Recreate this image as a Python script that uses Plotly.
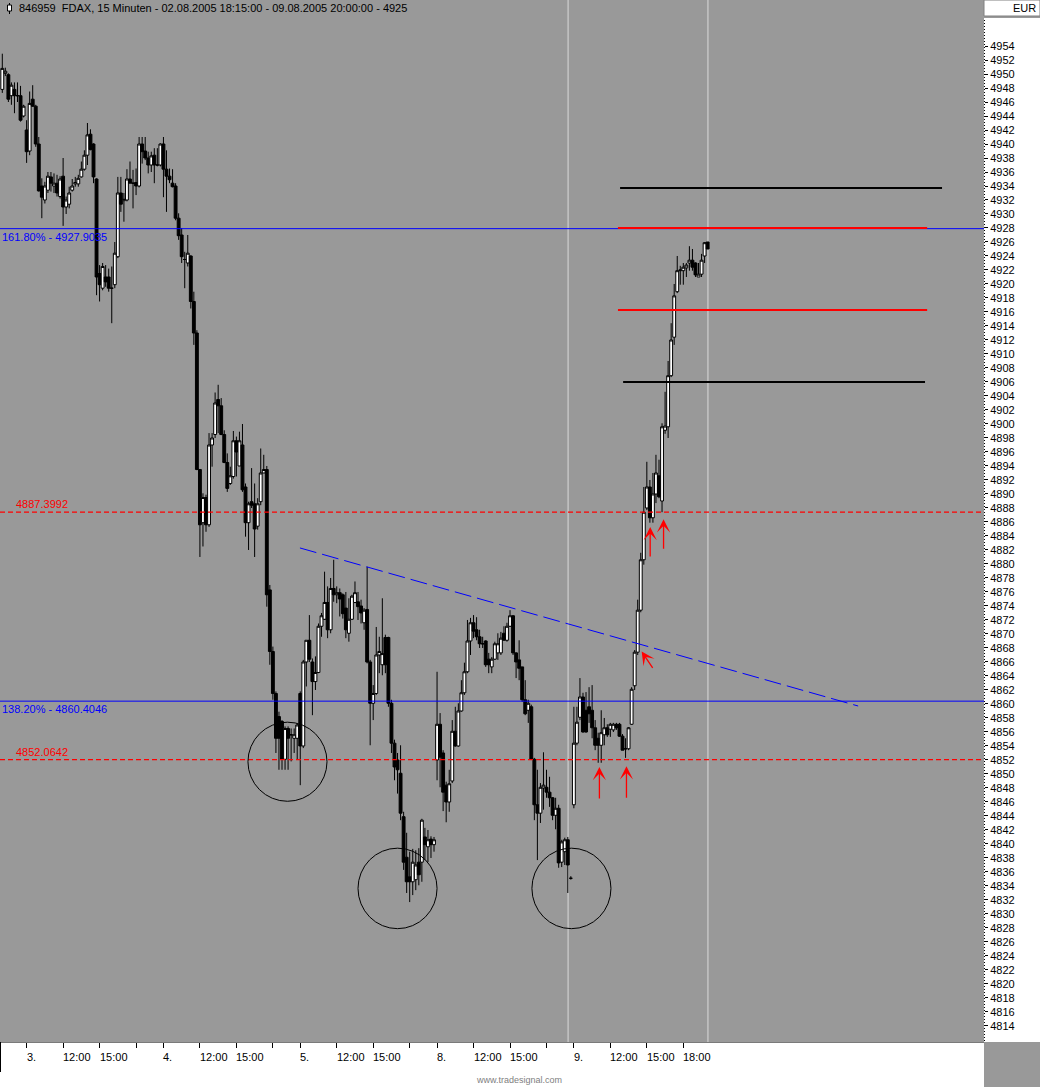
import plotly.graph_objects as go

# ---------------- data (15-minute FDAX bars, 02.08.2005 18:15 - 09.08.2005 20:00) ----------------
title_text = "846959  FDAX, 15 Minuten - 02.08.2005 18:15:00 - 09.08.2005 20:00:00 - 4925"
currency = "EUR"

opens = [
    4947.8, 4950.1, 4949.9, 4946.9, 4947.8, 4946.9, 4946.9, 4944.0, 4942.0, 4939.0,
    4946.4, 4945.4, 4940.0, 4934.0, 4932.0, 4933.4, 4935.3, 4934.0, 4934.4, 4932.5,
    4935.4, 4931.0, 4931.4, 4933.4, 4934.3, 4934.3, 4935.3, 4936.4, 4938.4, 4941.4,
    4940.0, 4935.0, 4921.5, 4919.4, 4921.0, 4921.0, 4919.4, 4919.9, 4923.9, 4933.0,
    4931.9, 4932.0, 4935.0, 4934.4, 4934.5, 4934.0, 4940.0, 4939.0, 4938.0, 4937.0,
    4938.4, 4937.0, 4937.0, 4940.0, 4936.4, 4935.4, 4934.4, 4934.0, 4929.4, 4927.0,
    4923.5, 4923.0, 4924.0, 4917.5, 4913.0, 4893.5, 4885.9, 4889.5, 4885.6, 4897.0,
    4898.5, 4903.5, 4902.6, 4898.5, 4894.5, 4891.5, 4892.5, 4897.6, 4894.0, 4897.0,
    4891.0, 4885.9, 4888.9, 4888.6, 4885.4, 4888.9, 4893.0, 4893.5, 4876.3, 4867.5,
    4861.5, 4858.2, 4857.5, 4852.1, 4856.5, 4855.6, 4855.1, 4855.1, 4861.5, 4854.0,
    4866.0, 4869.1, 4866.0, 4863.2, 4864.5, 4871.1, 4872.1, 4874.5, 4870.6, 4876.5,
    4875.6, 4875.9, 4875.6, 4873.7, 4870.1, 4872.1, 4874.5, 4874.6, 4874.0, 4871.6,
    4873.5, 4866.0, 4860.1, 4861.5, 4867.0, 4865.6, 4869.5, 4869.5, 4860.1, 4854.4,
    4852.0, 4850.1, 4843.9, 4838.1, 4835.3, 4834.6, 4834.9, 4837.4, 4837.4, 4841.0,
    4839.6, 4840.7, 4839.9, 4852.0, 4857.1, 4853.0, 4848.4, 4846.0, 4849.0, 4856.1,
    4854.0, 4859.0, 4861.6, 4864.6, 4869.0, 4871.6, 4870.6, 4869.6, 4868.6, 4869.0,
    4866.4, 4865.3, 4866.4, 4867.3, 4867.3, 4870.1, 4869.1, 4871.1, 4872.6, 4867.3,
    4866.3, 4865.3, 4860.6, 4859.1, 4859.6, 4852.1, 4845.6, 4844.4, 4848.0, 4848.1,
    4847.4, 4846.6, 4844.1, 4845.1, 4837.4, 4838.9, 4840.6, 4835.1, 4845.6, 4854.4,
    4858.1, 4861.0, 4859.1, 4859.6, 4859.1, 4856.6, 4855.1, 4854.1, 4855.6, 4856.6,
    4856.4, 4856.3, 4857.1, 4857.1, 4855.4, 4853.6, 4853.6, 4857.1, 4862.6, 4867.4,
    4873.4, 4880.6, 4888.0, 4891.0, 4886.6, 4890.0, 4892.6, 4889.0, 4899.1, 4899.6,
    4906.9, 4912.4, 4918.9, 4921.9, 4921.9, 4922.3, 4923.0, 4923.4, 4923.0, 4921.0,
    4921.4, 4924.0, 4926.0,
]
highs = [
    4952.9, 4950.9, 4950.1, 4948.8, 4948.8, 4948.8, 4948.3, 4945.6, 4943.4, 4947.5,
    4948.4, 4945.6, 4941.0, 4935.1, 4934.6, 4936.0, 4936.0, 4935.8, 4935.6, 4935.4,
    4938.0, 4932.5, 4933.9, 4935.0, 4935.3, 4935.6, 4937.5, 4939.1, 4943.0, 4942.1,
    4940.1, 4935.1, 4922.7, 4923.0, 4922.7, 4922.2, 4922.5, 4926.0, 4935.3, 4935.3,
    4933.0, 4936.4, 4937.5, 4936.3, 4936.5, 4941.0, 4941.0, 4941.0, 4938.9, 4938.9,
    4939.4, 4939.4, 4940.1, 4941.0, 4939.1, 4936.5, 4936.4, 4934.4, 4930.1, 4928.0,
    4924.6, 4927.0, 4924.1, 4918.9, 4913.4, 4893.5, 4890.1, 4889.9, 4898.7, 4898.7,
    4904.5, 4905.6, 4903.7, 4899.1, 4895.8, 4893.9, 4899.0, 4898.2, 4898.9, 4900.0,
    4891.5, 4888.9, 4893.7, 4891.5, 4889.4, 4896.5, 4895.6, 4894.0, 4877.0, 4868.2,
    4861.8, 4858.9, 4857.7, 4856.8, 4856.8, 4856.5, 4856.5, 4857.2, 4861.8, 4866.3,
    4869.1, 4872.7, 4866.5, 4866.8, 4871.5, 4873.0, 4878.9, 4876.8, 4878.0, 4880.6,
    4876.8, 4876.5, 4875.8, 4876.0, 4875.1, 4875.6, 4877.5, 4876.0, 4874.9, 4873.7,
    4879.6, 4866.3, 4862.7, 4871.0, 4869.6, 4875.1, 4869.9, 4869.6, 4860.6, 4854.9,
    4853.0, 4854.1, 4844.6, 4841.6, 4838.9, 4839.3, 4839.1, 4839.4, 4843.6, 4842.3,
    4842.0, 4841.1, 4841.0, 4864.6, 4858.7, 4853.4, 4848.9, 4850.6, 4857.7, 4859.6,
    4860.1, 4863.4, 4865.9, 4872.0, 4872.3, 4872.7, 4872.4, 4870.6, 4869.6, 4869.1,
    4867.3, 4866.7, 4868.9, 4870.1, 4870.3, 4871.1, 4871.6, 4873.4, 4872.7, 4867.4,
    4869.1, 4865.3, 4863.4, 4860.6, 4859.9, 4852.3, 4850.6, 4848.7, 4853.1, 4850.6,
    4849.6, 4846.7, 4846.6, 4845.6, 4840.6, 4840.9, 4841.0, 4835.4, 4859.6, 4859.6,
    4863.7, 4861.6, 4861.7, 4862.4, 4862.7, 4857.7, 4855.9, 4859.1, 4858.0, 4857.1,
    4857.3, 4857.3, 4857.3, 4857.3, 4855.7, 4855.1, 4856.7, 4862.4, 4867.7, 4874.9,
    4881.6, 4891.0, 4894.6, 4892.0, 4893.0, 4895.6, 4894.9, 4900.1, 4904.6, 4909.0,
    4914.4, 4920.0, 4924.0, 4922.6, 4923.0, 4923.0, 4925.4, 4925.0, 4923.1, 4923.0,
    4924.3, 4926.0, 4926.0,
]
lows = [
    4947.3, 4949.7, 4946.0, 4945.6, 4944.4, 4946.0, 4943.2, 4943.8, 4937.3, 4938.4,
    4945.3, 4939.6, 4933.2, 4929.4, 4931.5, 4933.0, 4933.2, 4933.0, 4932.5, 4932.2,
    4928.3, 4930.0, 4930.8, 4933.2, 4933.9, 4933.9, 4935.2, 4936.2, 4937.0, 4939.1,
    4934.4, 4918.4, 4917.5, 4919.1, 4919.6, 4918.9, 4914.4, 4919.4, 4923.7, 4930.3,
    4928.9, 4931.8, 4934.4, 4930.8, 4932.7, 4933.8, 4937.2, 4937.7, 4935.8, 4936.0,
    4934.4, 4936.8, 4936.8, 4932.4, 4930.3, 4934.4, 4933.8, 4929.1, 4926.3, 4923.0,
    4919.4, 4922.5, 4916.5, 4911.3, 4893.4, 4881.0, 4882.5, 4884.6, 4885.3, 4893.9,
    4898.0, 4898.7, 4898.4, 4894.4, 4890.3, 4891.3, 4892.2, 4892.5, 4894.0, 4890.3,
    4883.9, 4882.0, 4888.0, 4881.0, 4884.9, 4888.4, 4893.0, 4873.9, 4865.6, 4860.6,
    4853.0, 4850.6, 4850.6, 4850.6, 4850.6, 4851.8, 4853.0, 4852.0, 4848.4, 4853.7,
    4862.5, 4866.0, 4858.4, 4862.0, 4864.4, 4869.6, 4872.0, 4869.4, 4870.1, 4874.6,
    4874.4, 4872.5, 4872.2, 4869.4, 4868.9, 4872.0, 4874.4, 4872.0, 4871.5, 4870.6,
    4865.8, 4854.1, 4857.7, 4861.3, 4864.4, 4864.1, 4864.4, 4859.6, 4853.0, 4849.1,
    4847.2, 4843.4, 4836.3, 4833.0, 4831.7, 4832.7, 4833.4, 4834.1, 4834.6, 4837.7,
    4837.4, 4838.0, 4838.9, 4849.1, 4848.1, 4844.7, 4843.1, 4844.6, 4848.7, 4853.9,
    4853.9, 4858.9, 4861.3, 4864.4, 4867.0, 4869.4, 4869.1, 4868.0, 4868.0, 4865.3,
    4864.4, 4864.4, 4866.3, 4866.3, 4867.0, 4869.1, 4868.9, 4871.0, 4867.0, 4863.7,
    4863.4, 4860.3, 4858.4, 4857.3, 4852.0, 4843.4, 4837.7, 4843.0, 4844.9, 4846.6,
    4845.3, 4843.4, 4842.1, 4836.6, 4836.7, 4837.0, 4833.0, 4834.9, 4845.1, 4854.1,
    4857.7, 4855.9, 4855.9, 4857.3, 4855.1, 4853.4, 4851.6, 4851.6, 4854.1, 4855.3,
    4855.3, 4856.0, 4856.3, 4855.3, 4853.4, 4852.3, 4853.4, 4857.0, 4862.0, 4867.0,
    4873.1, 4879.9, 4887.7, 4885.9, 4885.9, 4888.7, 4889.4, 4887.4, 4898.6, 4898.0,
    4906.7, 4911.3, 4918.7, 4919.9, 4919.9, 4921.0, 4921.9, 4921.9, 4921.0, 4921.0,
    4921.0, 4923.0, 4925.0,
]
closes = [
    4950.8, 4950.4, 4946.4, 4948.4, 4946.9, 4946.9, 4943.4, 4945.4, 4938.9, 4945.8,
    4945.4, 4940.0, 4933.3, 4932.4, 4934.0, 4935.4, 4934.4, 4934.4, 4933.0, 4935.0,
    4931.0, 4932.0, 4933.0, 4934.0, 4934.5, 4935.1, 4936.4, 4938.4, 4941.3, 4939.2,
    4935.3, 4921.0, 4919.9, 4922.5, 4920.3, 4919.4, 4919.4, 4924.4, 4933.0, 4931.4,
    4932.1, 4935.0, 4934.4, 4934.4, 4934.0, 4940.0, 4938.9, 4938.0, 4937.0, 4938.3,
    4937.0, 4937.0, 4940.0, 4936.4, 4935.4, 4934.9, 4933.9, 4929.4, 4926.9, 4923.9,
    4923.5, 4924.4, 4917.5, 4913.0, 4893.5, 4885.6, 4889.5, 4885.6, 4897.0, 4898.0,
    4903.0, 4902.6, 4898.5, 4894.5, 4890.8, 4892.6, 4897.6, 4896.0, 4897.6, 4890.6,
    4885.9, 4888.6, 4888.4, 4885.0, 4888.6, 4893.0, 4893.5, 4875.6, 4867.5, 4861.5,
    4855.1, 4855.1, 4852.1, 4856.5, 4855.1, 4855.6, 4855.6, 4857.0, 4854.0, 4866.0,
    4869.1, 4866.4, 4863.2, 4864.5, 4871.1, 4872.6, 4874.5, 4870.6, 4876.5, 4875.6,
    4875.9, 4875.0, 4872.9, 4870.6, 4872.1, 4875.4, 4875.9, 4873.9, 4873.0, 4873.4,
    4866.0, 4860.1, 4861.5, 4867.0, 4867.5, 4867.2, 4865.6, 4860.1, 4854.4, 4851.0,
    4850.6, 4844.4, 4837.4, 4834.6, 4834.6, 4837.4, 4837.0, 4835.6, 4843.4, 4839.9,
    4840.6, 4839.9, 4840.6, 4857.1, 4852.4, 4847.4, 4846.0, 4848.6, 4856.1, 4854.0,
    4859.0, 4861.6, 4864.6, 4869.0, 4871.6, 4870.4, 4869.6, 4868.6, 4868.6, 4865.6,
    4865.6, 4866.4, 4868.6, 4868.6, 4869.4, 4869.1, 4871.1, 4872.6, 4867.3, 4866.0,
    4865.1, 4860.6, 4858.6, 4860.1, 4852.1, 4845.6, 4844.4, 4848.1, 4848.4, 4847.4,
    4846.6, 4844.1, 4845.1, 4837.3, 4840.3, 4840.6, 4837.0, 4835.1, 4854.4, 4857.4,
    4861.0, 4856.0, 4856.0, 4858.6, 4856.6, 4854.1, 4854.1, 4855.9, 4856.6, 4855.6,
    4857.1, 4857.1, 4856.6, 4855.4, 4853.4, 4853.6, 4856.6, 4862.1, 4867.4, 4873.4,
    4880.6, 4887.4, 4891.0, 4886.6, 4890.0, 4893.0, 4889.6, 4899.6, 4899.7, 4906.9,
    4912.0, 4918.3, 4921.9, 4922.0, 4922.4, 4922.7, 4923.4, 4922.4, 4921.3, 4921.4,
    4923.4, 4925.9, 4925.0,
]

# x-axis ticks (bar index of tick) and labels
tick_pos = [8, 20, 32, 44, 53, 65, 77, 89, 98, 110, 122, 134, 143, 155, 167, 179, 188, 200, 212, 224]
tick_text = ["3.", "12:00", "15:00", "", "4.", "12:00", "15:00", "", "5.", "12:00", "15:00", "",
             "8.", "12:00", "15:00", "", "9.", "12:00", "15:00", "18:00"]
price_ticks = list(range(4814, 4956, 2))

# Fibonacci extension levels (blue) and support levels (red dashed)
fib_levels = [4927.9035, 4860.4046]
fib_labels = ["161.80% - 4927.9035", "138.20% - 4860.4046"]
red_levels = [4887.3992, 4852.0642]
red_labels = ["4887.3992", "4852.0642"]

# drawing tools (bar index / price)
trend_x = [97.9, 281.5]
trend_y = [4882.29, 4859.71]
target_black = [(203.2, 309.1, 4933.7), (204.2, 303.5, 4906.0)]
target_red = [(202.5, 304.2, 4928.0), (202.5, 304.2, 4916.3)]
circles = [(80.8, 106.8, 4846.1, 4857.4), (117.0, 143.0, 4827.9, 4839.4), (174.2, 200.2, 4827.9, 4839.4)]
vlines = [186.1, 232.1]
arrows = [(196.4, 4851.0, 0, 33), (205.3, 4851.1, 0, 33), (213.1, 4885.3, 0, 31),
          (217.5, 4886.4, 0, 31), (210.3, 4867.5, 12, 18)]

# ---------------- layout geometry ----------------
W, H = 1040, 1087
ML, MR, MT, MB = 0, 56, 18, 45
PW, PH = W - ML - MR, H - MT - MB
BG = "#999999"
FONT = "Liberation Sans"


def pxx(xp):
    return (xp - ML) / PW


def pxy(yp):
    return (H - MB - yp) / PH


n = len(opens)
bar_index = list(range(n))

fig = go.Figure()
fig.add_trace(go.Candlestick(
    x=bar_index, open=opens, high=highs, low=lows, close=closes,
    increasing=dict(fillcolor="white", line=dict(color="black", width=1)),
    decreasing=dict(fillcolor="black", line=dict(color="black", width=1)),
    whiskerwidth=0, hoverinfo="skip", showlegend=False,
))

shapes = []
# white panels (right axis, bottom axis) and EUR box
shapes.append(dict(type="rect", xref="paper", yref="paper", x0=pxx(984), x1=pxx(1040), y0=pxy(1042), y1=pxy(18),
                   fillcolor="white", line=dict(width=0), layer="below"))
shapes.append(dict(type="rect", xref="paper", yref="paper", x0=pxx(0), x1=pxx(984), y0=pxy(1087), y1=pxy(1042),
                   fillcolor="white", line=dict(width=0), layer="below"))
shapes.append(dict(type="rect", xref="paper", yref="paper", x0=pxx(984), x1=pxx(1040), y0=pxy(16), y1=pxy(0),
                   fillcolor="white", line=dict(color="#808080", width=1), layer="below"))
# dotted axis line
shapes.append(dict(type="line", xref="paper", yref="paper", x0=pxx(984.5), x1=pxx(984.5), y0=pxy(1041), y1=pxy(18),
                   line=dict(color="black", width=1, dash="1px,2px")))
# bottom left short line
shapes.append(dict(type="line", xref="paper", yref="paper", x0=pxx(0.5), x1=pxx(0.5), y0=pxy(1072), y1=pxy(1042),
                   line=dict(color="black", width=1)))
# title icon
shapes.append(dict(type="line", xref="paper", yref="paper", x0=pxx(9.5), x1=pxx(9.5), y0=pxy(14), y1=pxy(3),
                   line=dict(color="black", width=1)))
shapes.append(dict(type="rect", xref="paper", yref="paper", x0=pxx(7.5), x1=pxx(11.5), y0=pxy(11), y1=pxy(5),
                   fillcolor="white", line=dict(color="black", width=1)))

# vertical markers
for xv in vlines:
    shapes.append(dict(type="line", xref="x", yref="paper", x0=xv, x1=xv, y0=0, y1=pxy(0),
                       line=dict(color="#dadada", width=1), layer="below"))
# fib lines
for lv in fib_levels:
    shapes.append(dict(type="line", xref="paper", yref="y", x0=0, x1=1, y0=lv, y1=lv,
                       line=dict(color="#0000ff", width=1)))
for lv in red_levels:
    shapes.append(dict(type="line", xref="paper", yref="y", x0=0, x1=1, y0=lv, y1=lv,
                       line=dict(color="#ff0000", width=1.2, dash="5px,3px")))
# trend line
shapes.append(dict(type="line", xref="x", yref="y", x0=trend_x[0], x1=trend_x[1], y0=trend_y[0], y1=trend_y[1],
                   line=dict(color="#0000ff", width=1, dash="17px,6px")))
for x0, x1, lv in target_black:
    shapes.append(dict(type="line", xref="x", yref="y", x0=x0, x1=x1, y0=lv, y1=lv,
                       line=dict(color="black", width=2)))
for x0, x1, lv in target_red:
    shapes.append(dict(type="line", xref="x", yref="y", x0=x0, x1=x1, y0=lv, y1=lv,
                       line=dict(color="#ff0000", width=2)))
for x0, x1, y0, y1 in circles:
    shapes.append(dict(type="circle", xref="x", yref="y", x0=x0, x1=x1, y0=y0, y1=y1,
                       line=dict(color="black", width=1)))

annotations = []
annotations.append(dict(text=title_text, xref="paper", yref="paper", x=pxx(17), y=pxy(8), xanchor="left",
                        yanchor="middle", showarrow=False, font=dict(family=FONT, size=11, color="black")))
annotations.append(dict(text=currency, xref="paper", yref="paper", x=pxx(1038), y=pxy(8), xanchor="right",
                        yanchor="middle", showarrow=False, font=dict(family=FONT, size=11, color="black")))
annotations.append(dict(text="www.tradesignal.com", xref="paper", yref="paper", x=pxx(519), y=pxy(1080),
                        xanchor="center", yanchor="middle", showarrow=False,
                        font=dict(family=FONT, size=9, color="#808080")))
for tp, tt in zip(tick_pos, tick_text):
    if tt:
        annotations.append(dict(text=tt, xref="x", yref="paper", x=tp, y=pxy(1057), xanchor="left",
                                yanchor="middle", xshift=-2, showarrow=False,
                                font=dict(family=FONT, size=11, color="black")))
for lv, lb in zip(fib_levels, fib_labels):
    annotations.append(dict(text=lb, xref="paper", yref="y", x=pxx(0), y=lv, xanchor="left", yanchor="top",
                            showarrow=False, font=dict(family=FONT, size=11, color="#0000ff")))
for lv, lb in zip(red_levels, red_labels):
    annotations.append(dict(text=lb, xref="paper", yref="y", x=pxx(14), y=lv, xanchor="left", yanchor="bottom",
                            showarrow=False, font=dict(family=FONT, size=11, color="#ff0000")))
for xa, ya, dx, dy in arrows:
    annotations.append(dict(text="", x=xa, y=ya, xref="x", yref="y", ax=dx, ay=dy, showarrow=True,
                            arrowhead=3, arrowsize=1.7, arrowwidth=1.3, arrowcolor="#ff0000", standoff=0))

fig.update_layout(
    width=W, height=H, autosize=False,
    margin=dict(l=ML, r=MR, t=MT, b=MB, pad=0),
    paper_bgcolor=BG, plot_bgcolor=BG,
    boxgap=0.06, boxgroupgap=0,
    showlegend=False,
    shapes=shapes, annotations=annotations,
    xaxis=dict(range=[-0.757, 322.9], showgrid=False, zeroline=False, rangeslider=dict(visible=False),
               tickmode="array", tickvals=tick_pos, ticks="outside", ticklen=5, tickcolor="black",
               showticklabels=False, showline=True, linecolor="#7a7a7a", linewidth=1, fixedrange=True),
    yaxis=dict(range=[4811.71, 4958.0], side="right", showgrid=False, zeroline=False, showline=False,
               tickmode="array", tickvals=price_ticks, ticktext=[str(v) for v in price_ticks],
               ticks="outside", ticklen=3, tickcolor="black",
               tickfont=dict(family=FONT, size=11, color="black"), fixedrange=True),
    font=dict(family=FONT, size=11, color="black"),
)

page_fix = ("document.body.style.margin='0px';document.body.style.padding='0px';"
            "document.body.style.overflow='hidden';")
fig.write_html("out.html", post_script=page_fix, config={"displayModeBar": False})
